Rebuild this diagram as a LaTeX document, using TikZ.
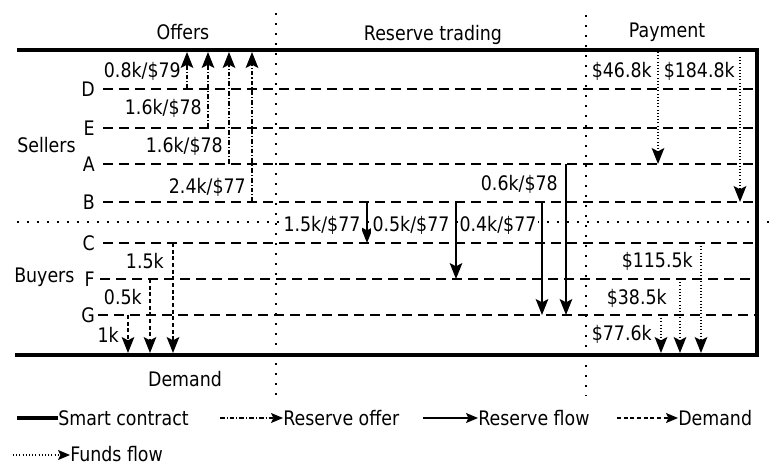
\documentclass[tikz,border=0pt]{standalone}
\usepackage{fontspec}
\setmainfont{DejaVu Sans}[FakeStretch=0.87]
\usetikzlibrary{arrows.meta}
\begin{document}
\begin{tikzpicture}[x=0.75pt,y=-0.75pt,
  every node/.style={inner sep=0pt,font=\fontsize{15}{17}\selectfont},
  contract/.style={line width=3pt,line join=miter},
  party/.style={line width=2.2pt,dash pattern=on 7.5pt off 4.5pt},
  divider/.style={line width=1.3pt,dash pattern=on 1.2pt off 6.3pt},
  tipbig/.style={-{Stealth[length=12pt,width=9.5pt,inset=2.5pt]}},
  tipsmall/.style={-{Stealth[length=9pt,width=7.5pt,inset=1.8pt]}},
  offer/.style={line width=0.8pt,dash pattern=on 3.5pt off 1.5pt on 0.8pt off 1.5pt},
  flow/.style={line width=0.9pt},
  demandarr/.style={line width=0.9pt,dash pattern=on 3pt off 2pt},
  funds/.style={line width=0.9pt,dash pattern=on 0.8pt off 1.6pt},
  lbl/.style={anchor=base east},
  wlbl/.style={anchor=base east,fill=white,inner sep=1pt}]
\useasboundingbox (0,0) rectangle (769,465);

% section titles
\node[anchor=base] (tOffers) at (183,39) {Offers};
\node[anchor=base] (tReserve) at (433,40) {Reserve trading};
\node[anchor=base] (tPayment) at (667,37) {Payment};
\node[anchor=base] (tDemand) at (185,386) {Demand};

% dividers
\draw[divider] (276,13) coordinate (v1t) -- (276,396) coordinate (v1b);
\draw[divider] (586,15) coordinate (v2t) -- (586,396) coordinate (v2b);
\draw[divider] (17,222) coordinate (hl) -- (769,222) coordinate (hr);

% party lines
\foreach \n/\y/\s in {D/89/103,E/128/103,A/164/103,B/202/103,C/243/103,F/279/100,G/315/98}{
  \node[anchor=east] (\n) at (95,\y) {\n};
  \draw[party] (\s,\y) coordinate (\n s) -- (757,\y) coordinate (\n e);
}
\node[anchor=base west] (sellers) at (17,152) {Sellers};
\node[anchor=base west] (buyers) at (14,282) {Buyers};

% smart contract frame
\draw[contract] (17,50) coordinate (ctl) -- (757,50) coordinate (ctr) -- (757,355) coordinate (cbr) -- (15,355) coordinate (cbl);

% offers
\draw[offer,tipbig] (187,89) coordinate (o1) -- (187,52);
\draw[offer,tipbig] (208,128) coordinate (o2) -- (208,52);
\draw[offer,tipbig] (229,164) coordinate (o3) -- (229,52);
\draw[offer,tipbig] (252,202) coordinate (o4) -- (252,52);
\node[lbl] (l1) at (181,77) {0.8k/\$79};
\node[lbl] (l2) at (202,114) {1.6k/\$78};
\node[lbl] (l3) at (223,152) {1.6k/\$78};
\node[lbl] (l4) at (246,193) {2.4k/\$77};

% reserve flows
\draw[flow,tipbig] (367,202) coordinate (r1) -- (367,243);
\draw[flow,tipbig] (456,202) coordinate (r2) -- (456,279);
\draw[flow,tipbig] (542,202) coordinate (r3) -- (542,315);
\draw[flow,tipbig] (566,164) coordinate (r4) -- (566,315);
\node[wlbl] (rl1) at (362,231) {1.5k/\$77};
\node[wlbl] (rl2) at (451,231) {0.5k/\$77};
\node[wlbl] (rl3) at (538,231) {0.4k/\$77};
\node[lbl] (rl4) at (558,190) {0.6k/\$78};

% payments
\draw[funds,tipbig] (658,52) coordinate (p1) -- (658,164);
\draw[funds,tipbig] (740,57) coordinate (p2) -- (740,202);
\draw[funds,tipbig] (701,243) coordinate (p3) -- (701,353);
\draw[funds,tipbig] (680,279) coordinate (p4) -- (680,353);
\draw[funds,tipbig] (661,315) coordinate (p5) -- (661,353);
\node[lbl] (pl1) at (652,77) {\$46.8k};
\node[lbl] (pl2) at (735,77) {\$184.8k};
\node[lbl] (pl3) at (693,267) {\$115.5k};
\node[lbl] (pl4) at (667,304) {\$38.5k};
\node[lbl] (pl5) at (652,340) {\$77.6k};

% demand
\draw[demandarr,tipbig] (173,243) coordinate (d1) -- (173,353);
\draw[demandarr,tipbig] (150,279) coordinate (d2) -- (150,353);
\draw[demandarr,tipbig] (128,315) coordinate (d3) -- (128,353);
\node[lbl] (dl1) at (164,268) {1.5k};
\node[lbl] (dl2) at (142,304) {0.5k};
\node[lbl] (dl3) at (119,342) {1k};

% legend
\node[anchor=base west] (lg1) at (58,425) {Smart contract};
\draw[contract] (17,418) -- (lg1.west |- 0,418);
\node[anchor=base west] (lg2) at (283,425) {Reserve offer};
\draw[offer,tipsmall] (220,418) -- (lg2.west |- 0,418);
\node[anchor=base west] (lg3) at (478,425) {Reserve flow};
\draw[flow,tipsmall] (423,418) -- (lg3.west |- 0,418);
\node[anchor=base west] (lg4) at (678,425) {Demand};
\draw[demandarr,tipsmall] (617,418) -- (lg4.west |- 0,418);
\node[anchor=base west] (lg5) at (70,461) {Funds flow};
\draw[funds,tipsmall] (13,455) -- (lg5.west |- 0,455);
\end{tikzpicture}
\end{document}
